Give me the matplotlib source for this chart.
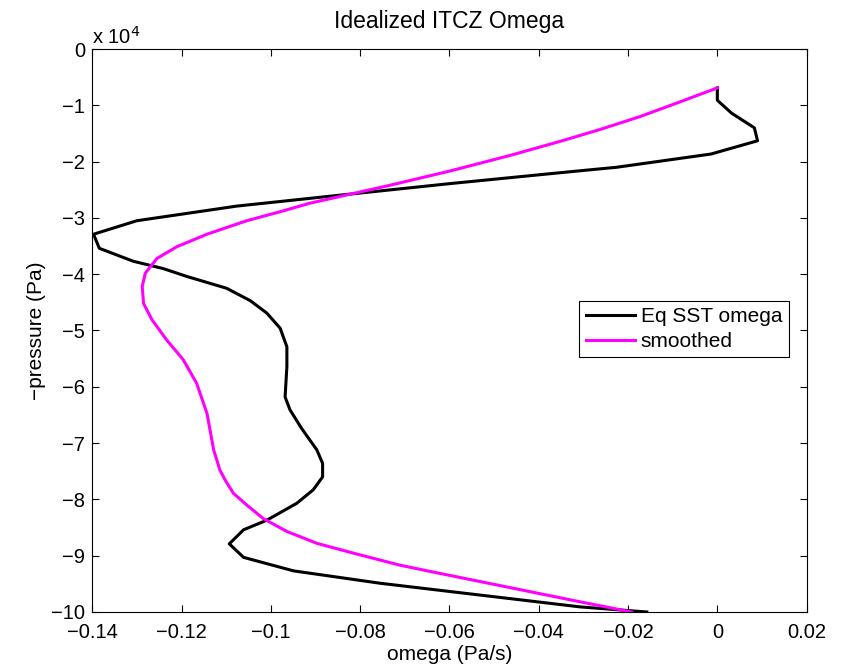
import numpy as np
import matplotlib
matplotlib.use("Agg")
import matplotlib.pyplot as plt
from matplotlib.ticker import FuncFormatter

plt.rcParams['font.family'] = ['Liberation Sans', 'DejaVu Sans']

# --- data: omega (Pa/s) vs -pressure (Pa) ---
eq_omega = [0.0, 0.0, 0.0032, 0.0083, 0.0090, -0.0014, -0.0225, -0.0330,
            -0.0598, -0.0838, -0.1076, -0.1300, -0.1397, -0.1384, -0.1308,
            -0.1241, -0.1188, -0.1099, -0.1046, -0.1009, -0.0979, -0.0964,
            -0.0964, -0.0968, -0.0957, -0.0931, -0.0897, -0.0884, -0.0884,
            -0.0905, -0.0942, -0.1009, -0.1061, -0.1093, -0.1061, -0.0949,
            -0.0755, -0.0531, -0.0307, -0.0158]
eq_p = [-6900, -9100, -11400, -14000, -16300, -18650, -21000, -21800,
        -23900, -25900, -27900, -30500, -32900, -35400, -37700,
        -39000, -40400, -42500, -44700, -46900, -49600, -52900,
        -56400, -61800, -64100, -67400, -71200, -73600, -76000,
        -78300, -80700, -83700, -85400, -87900, -90300, -92700,
        -94900, -97000, -99100, -100000]

smooth_omega = [0.0, -0.0084, -0.0173, -0.0263, -0.0352, -0.0464, -0.0598,
                -0.0733, -0.0823, -0.0913, -0.0979, -0.1054, -0.1143, -0.1210,
                -0.1255, -0.1281, -0.1288, -0.1285, -0.1266, -0.1233, -0.1196,
                -0.1166, -0.1143, -0.1128, -0.1114, -0.1102, -0.1084, -0.1054,
                -0.1017, -0.0964, -0.0897, -0.0808, -0.0710, -0.0643, -0.0531,
                -0.0419, -0.0307, -0.0192]
smooth_p = [-6900, -9400, -12000, -14300, -16400, -18900, -21650,
            -24200, -25800, -27400, -28900, -30500, -32900, -35100,
            -37200, -39800, -42200, -45200, -48100, -51700, -55200,
            -59400, -64700, -71200, -74800, -76600, -78900, -81000,
            -83400, -85700, -87800, -89700, -91700, -92800, -94600,
            -96400, -98200, -100000]

xticks = [-0.14, -0.12, -0.1, -0.08, -0.06, -0.04, -0.02, 0, 0.02]
yticks = [-100000, -90000, -80000, -70000, -60000, -50000, -40000,
          -30000, -20000, -10000, 0]

fig = plt.figure(figsize=(8.42, 6.67), dpi=100)
ax = fig.add_axes([0.1095, 0.0825, 0.8485, 0.844])

ax.plot(eq_omega, eq_p, color='black', lw=2.2, label='Eq SST omega')
ax.plot(smooth_omega, smooth_p, color='#ff00ff', lw=2.2, label='smoothed')

ax.set_xlim(-0.14, 0.02)
ax.set_ylim(-100000, 0)
ax.set_xticks(xticks)
ax.set_yticks(yticks)
ax.xaxis.set_major_formatter(FuncFormatter(lambda v, p: '0' if abs(v) < 1e-9 else f'{v:g}'.replace('-', '\u2212')))
ax.yaxis.set_major_formatter(FuncFormatter(lambda v, p: f'{v/1e4:g}'.replace('-', '\u2212')))
ax.tick_params(direction='in', length=5, labelsize=14.5, top=True, right=True)
ax.tick_params(axis='x', pad=8)
ax.tick_params(axis='y', pad=5)
for s in ax.spines.values():
    s.set_linewidth(0.8)

ax.text(0.0, 1.003, 'x 10$^{4}$', transform=ax.transAxes, fontsize=14.5,
        ha='left', va='bottom')
ax.set_title('Idealized ITCZ Omega', fontsize=16.5, pad=15)
ax.set_xlabel('omega (Pa/s)', fontsize=15, labelpad=2)
ax.set_ylabel('\u2212pressure (Pa)', fontsize=15, labelpad=4)

leg = ax.legend(loc='upper left', bbox_to_anchor=(0.682, 0.553), fontsize=15,
                frameon=True, fancybox=False, edgecolor='black', framealpha=1,
                handlelength=2.35, borderpad=0.3, labelspacing=0.3,
                handletextpad=0.3, borderaxespad=0)
leg.get_frame().set_linewidth(0.8)

plt.savefig('out.png', dpi=100)
